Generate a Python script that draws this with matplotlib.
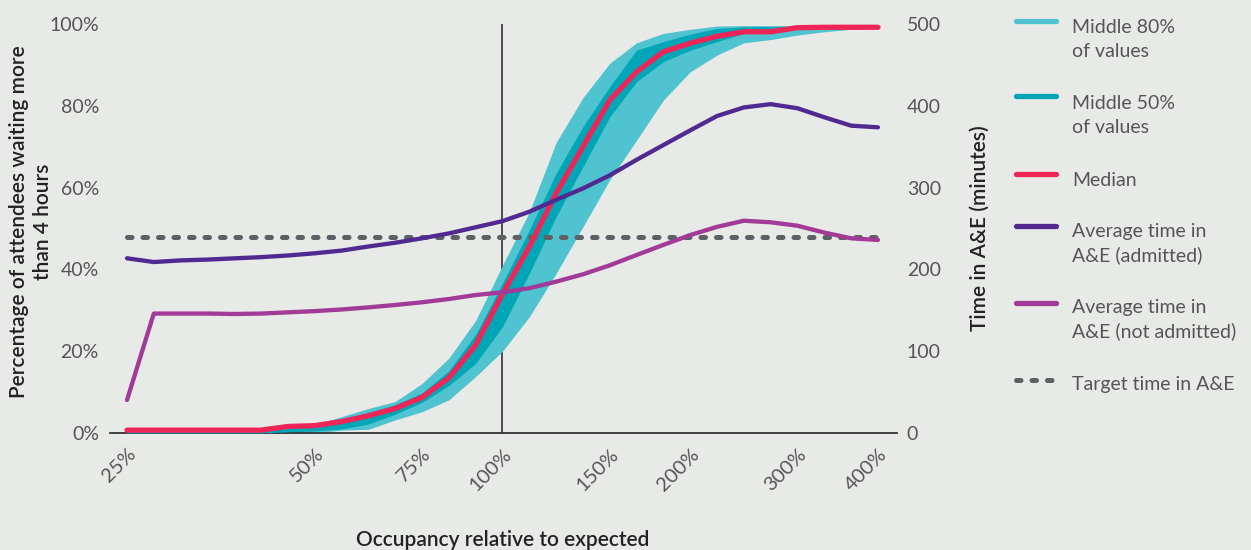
import matplotlib
matplotlib.use("Agg")
import matplotlib.pyplot as plt
from matplotlib.lines import Line2D
import numpy as np

plt.rcParams['font.family'] = ['Lato', 'DejaVu Sans']

# ---------------- data ----------------
occupancy_ticks = ["25%", "50%", "75%", "100%", "150%", "200%", "300%", "400%"]
occupancy_tick_index = [0, 7, 11, 14, 18, 21, 25, 28]
reference_occupancy = "100%"

# percentage of attendees waiting > 4 hours (left axis, %)
p10 = [0, 0, 0, 0, 0, 0, 0, 0, 0.7, 0.9, 3.2, 5.2, 8.1, 13.8, 20, 28.4, 39, 50.4,
       61.9, 71.6, 81.4, 88.3, 92.4, 95.4, 96.2, 97.3, 98.1, 98.7, 99.1]
p25 = [0, 0, 0, 0, 0, 0, 0.3, 0.5, 1.0, 2.2, 4.6, 7.5, 11.6, 17, 26, 39, 52.9, 65.1,
       77.3, 85.9, 90.8, 93.6, 95.7, 97.7, 98.1, 99.0, 99.2, 99.2, 99.2]
median = [0.7, 0.7, 0.7, 0.7, 0.7, 0.7, 1.6, 1.8, 2.8, 4.2, 6.0, 8.7, 13.5, 21.5, 34,
          45.5, 58.6, 70, 81.4, 88.3, 93.2, 95.3, 97, 98.1, 98.1, 99.1, 99.2, 99.2, 99.2]
p75 = [0.3, 0.3, 0.3, 0.3, 0.3, 0.5, 1.1, 1.8, 2.8, 5.0, 6.9, 9.8, 15.2, 24.1, 36.6,
       49.6, 63.5, 74.9, 84.7, 93.6, 95.7, 97.5, 98.9, 99.3, 99.4, 99.4, 99.4, 99.4, 99.4]
p90 = [0.3, 0.3, 0.3, 0.3, 0.3, 0.5, 1.2, 2.0, 4.0, 6.0, 7.7, 12.1, 18.3, 27.5, 41,
       54, 71, 82, 90.4, 95.4, 97.7, 98.7, 99.5, 99.6, 99.6, 99.6, 99.6, 99.6, 99.6]

# average time in A&E (right axis, minutes)
admitted = [213.6, 209, 211, 212, 213.5, 215, 217, 219.7, 223, 228, 232.6, 238, 244,
            251.5, 259, 270.5, 285, 299, 315, 334, 352, 370, 387.5, 398, 402, 397,
            386, 375.7, 373.7]
not_admitted = [40.3, 146, 146, 146, 145.5, 146, 147.5, 149, 151, 153.6, 156.5, 159.8,
                163.8, 168.7, 172, 177, 185, 194, 205, 217.6, 230, 242, 252, 259.5,
                257.6, 253.4, 245, 238, 236]
target_minutes = 240

left_ticks = [0, 20, 40, 60, 80, 100]
right_ticks = [0, 100, 200, 300, 400, 500]

# ---------------- style ----------------
BG = "#e8eae7"
C_LIGHT = "#4fc3cf"
C_DARK = "#00a6b6"
C_RED = "#ef2558"
C_ADM = "#512a91"
C_NADM = "#a23b97"
C_GREY = "#5c6166"
C_TEXT = "#555555"
C_TITLE = "#222222"

W, H = 1251, 550
fig = plt.figure(figsize=(W / 100, H / 100), dpi=100, facecolor=BG)
ax = fig.add_axes([110 / W, 117 / H, (897 - 110) / W, (433 - 24) / H])
ax.set_facecolor(BG)
ax2 = ax.twinx()

x = np.arange(len(median))
ax.set_xlim(-0.634, 28.71)
ax.set_ylim(0, 100)
ax2.set_ylim(0, 500)

ref_idx = occupancy_tick_index[occupancy_ticks.index(reference_occupancy)]
ax.vlines(ref_idx, 0, 100, color="#222222", lw=1.1, zorder=1)

ax.fill_between(x, p10, p90, color=C_LIGHT, lw=0, zorder=2)
ax.fill_between(x, p25, p75, color=C_DARK, lw=0, zorder=3)

ax2.plot([x[0], x[-1]], [target_minutes, target_minutes], color=C_GREY, lw=3.6,
         linestyle=(0, (0.9, 2.2)), dash_capstyle="round", zorder=2)
ax2.plot(x, median, transform=ax.transData, color=C_RED, lw=3.8,
         solid_capstyle="round", solid_joinstyle="round", zorder=3, clip_on=False)
ax2.plot(x, admitted, color=C_ADM, lw=3.1, solid_capstyle="round",
         solid_joinstyle="round", zorder=4)
ax2.plot(x, not_admitted, color=C_NADM, lw=3.1, solid_capstyle="round",
         solid_joinstyle="round", zorder=4)

for s in ax.spines.values():
    s.set_visible(False)
for s in ax2.spines.values():
    s.set_visible(False)
ax.spines["bottom"].set_visible(True)
ax.spines["bottom"].set_color("#333333")
ax.spines["bottom"].set_linewidth(1.3)

ax.set_xticks(occupancy_tick_index)
ax.set_xticklabels(occupancy_ticks, rotation=45, ha="right", va="top",
                   rotation_mode="anchor", fontsize=14.5, color=C_TEXT)
ax.set_yticks(left_ticks)
ax.set_yticklabels([f"{v}%" for v in left_ticks], fontsize=14, color=C_TEXT)
ax2.set_yticks(right_ticks)
ax2.set_yticklabels([str(v) for v in right_ticks], fontsize=14, color=C_TEXT)
ax.tick_params(axis="both", length=0)
ax.tick_params(axis="y", pad=8)
ax.tick_params(axis="x", pad=9)
ax2.tick_params(axis="y", length=0, pad=7)

fig.text(31 / W, 1 - 222 / H, "Percentage of attendees waiting more\nthan 4 hours",
         rotation=90, ha="center", va="center", multialignment="center",
         fontsize=15, color=C_TITLE, fontweight="semibold", linespacing=1.3)
fig.text(980 / W, 1 - 228 / H, "Time in A&E (minutes)", rotation=90, ha="center",
         va="center", fontsize=15, color=C_TITLE, fontweight="semibold")
fig.text(503 / W, 1 - 540 / H, "Occupancy relative to expected", ha="center",
         va="center", fontsize=15, color=C_TITLE, fontweight="semibold")

# ---------------- legend (manual) ----------------
legend_items = [
    (["Middle 80%", "of values"], C_LIGHT, "-", 20.7, 33),
    (["Middle 50%", "of values"], C_DARK, "-", 96, 109),
    (["Median"], C_RED, "-", 174.3, 186),
    (["Average time in", "A&E (admitted)"], C_ADM, "-", 226, 237),
    (["Average time in", "A&E (not admitted)"], C_NADM, "-", 302.7, 313),
    (["Target time in A&E"], C_GREY, "dash", 380, 390),
]
for lines, col, sty, hy, base in legend_items:
    if sty == "dash":
        ln = Line2D([1016 / W, 1056 / W], [1 - hy / H] * 2, transform=fig.transFigure,
                    color=col, lw=3.6, linestyle=(0, (0.9, 2.2)),
                    dash_capstyle="round")
    else:
        ln = Line2D([1016 / W, 1056 / W], [1 - hy / H] * 2, transform=fig.transFigure,
                    color=col, lw=3.8, solid_capstyle="round")
    fig.add_artist(ln)
    for k, t in enumerate(lines):
        fig.text(1072 / W, 1 - (base + 24 * k) / H, t, ha="left", va="baseline",
                 fontsize=14, color=C_TEXT)

fig.savefig("out.png", dpi=100, facecolor=BG)
